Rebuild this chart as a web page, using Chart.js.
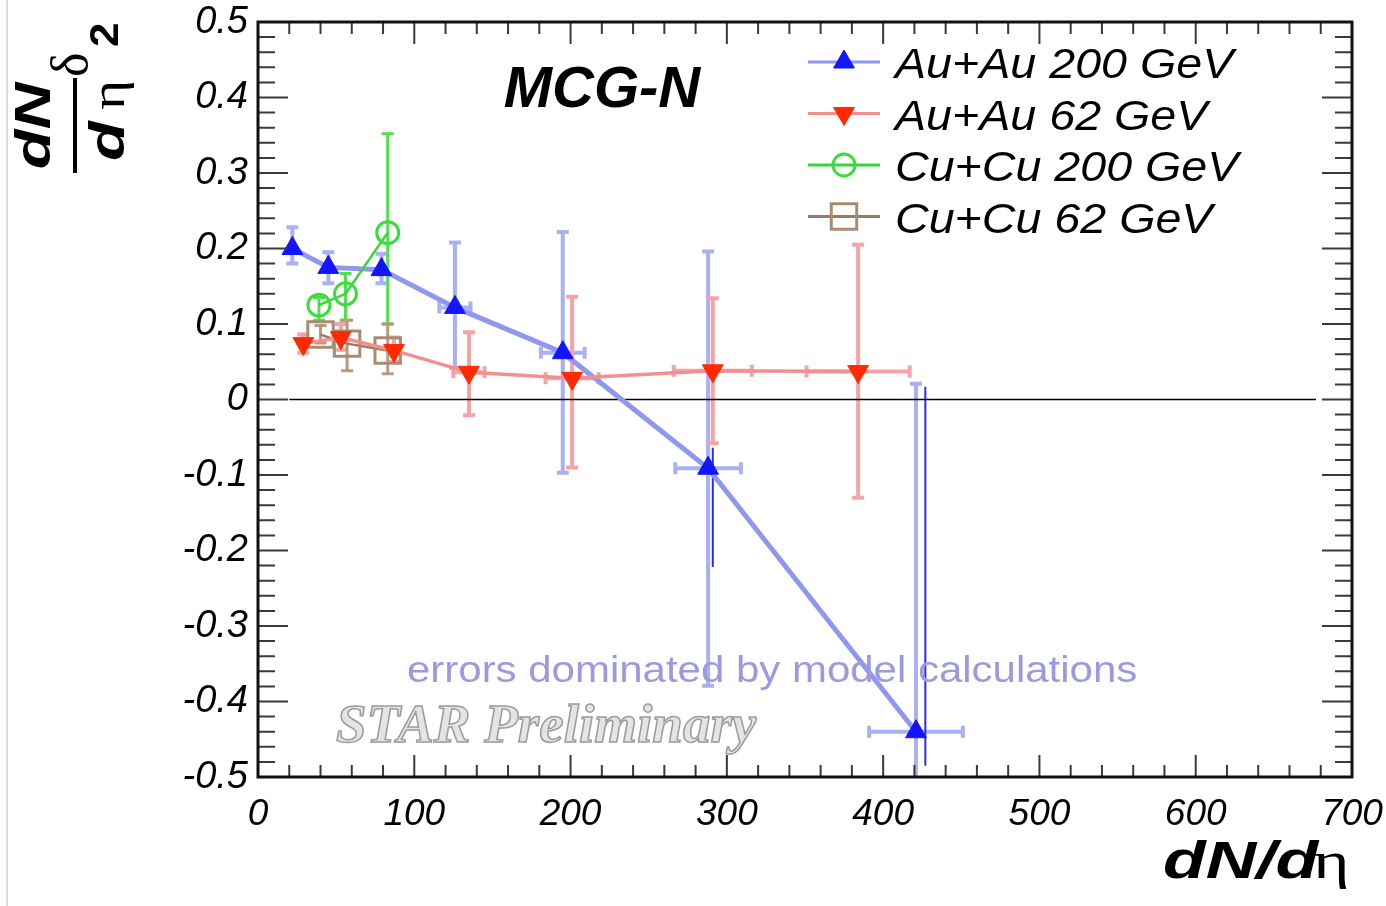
<!DOCTYPE html>
<html>
<head>
<meta charset="utf-8">
<script src="https://cdn.jsdelivr.net/npm/chart.js@4.4.0/dist/chart.umd.min.js"></script>
<style>
  body { margin: 0; background: #fff; }
  canvas { display: block; }
</style>
</head>
<body>
<canvas id="myChart" width="1386" height="906"></canvas>
<script>
// axis ticks
const xTicks = [0, 100, 200, 300, 400, 500, 600, 700];
const xTickLabels = ['0', '100', '200', '300', '400', '500', '600', '700'];
const yTicks = [-0.5, -0.4, -0.3, -0.2, -0.1, 0, 0.1, 0.2, 0.3, 0.4, 0.5];
const yTickLabels = ['-0.5', '-0.4', '-0.3', '-0.2', '-0.1', '0', '0.1', '0.2', '0.3', '0.4', '0.5'];

const seriesNames = ['Au+Au 200 GeV', 'Au+Au 62 GeV', 'Cu+Cu 200 GeV', 'Cu+Cu 62 GeV'];

// Au+Au 200 GeV
const auau200X = [22, 45, 79, 126, 195, 288, 421];
const auau200Y = [0.200, 0.175, 0.172, 0.122, 0.062, -0.091, -0.440];
const auau200YHi = [0.228, 0.195, 0.193, 0.208, 0.222, 0.196, 0.021];
const auau200YLo = [0.180, 0.154, 0.154, 0.042, -0.097, -0.379, -0.530];
const auau200XErr = [2, 2, 2, 10, 14, 21, 30];
// thin extra bars
const auau200ThinX = [291, 427];
const auau200ThinHi = [-0.064, 0.017];
const auau200ThinLo = [-0.222, -0.485];

// Au+Au 62 GeV
const auau62X = [29, 53, 87, 135, 201, 291, 384];
const auau62Y = [0.074, 0.082, 0.065, 0.036, 0.028, 0.038, 0.037];
const auau62YHi = [0.086, 0.100, 0.082, 0.089, 0.136, 0.134, 0.205];
const auau62YLo = [0.062, 0.066, 0.050, -0.021, -0.090, -0.058, -0.130];
const auau62XErr = [2, 2, 2, 10, 17, 25, 33];

// Cu+Cu 200 GeV
const cucu200X = [39, 56, 83];
const cucu200Y = [0.125, 0.140, 0.221];
const cucu200YHi = [0.135, 0.167, 0.352];
const cucu200YLo = [0.105, 0.105, 0.100];
const cucu200XErr = [1, 1, 1];

// Cu+Cu 62 GeV
const cucu62X = [40, 57, 83];
const cucu62Y = [0.086, 0.074, 0.065];
const cucu62YHi = [0.098, 0.105, 0.100];
const cucu62YLo = [0.075, 0.038, 0.034];
const cucu62XErr = [1, 1, 1];

// zero reference line
const zeroLineX = [20, 677];
const zeroLineY = [0, 0];

function toPoints (xs, ys) {
    return xs.map((x, i) => ({ x: x, y: ys[i] }));
}

function drawText (ctx, text, x, y, font, color, sx, align) {
    ctx.save();
    ctx.translate(x, y);
    ctx.scale(sx, 1);
    ctx.font = font;
    ctx.fillStyle = color;
    ctx.textAlign = align || 'left';
    ctx.textBaseline = 'alphabetic';
    ctx.fillText(text, 0, 0);
    ctx.restore();
}

const errorBars = {
    id: 'errorBars',
    beforeDatasetsDraw (chart) {
        const { ctx, chartArea: a, scales: { x, y } } = chart;
        ctx.save();
        ctx.beginPath();
        ctx.rect(a.left, a.top, a.width, a.height);
        ctx.clip();
        chart.data.datasets.forEach(ds => {
            if (!ds.errors) return;
            const e = ds.errors;
            ctx.strokeStyle = e.color;
            ctx.lineWidth = e.width;
            ctx.beginPath();
            ds.data.forEach((p, i) => {
                const px = x.getPixelForValue(p.x);
                const py = y.getPixelForValue(p.y);
                const top = y.getPixelForValue(e.hi[i]);
                const bot = y.getPixelForValue(e.lo[i]);
                const l = x.getPixelForValue(p.x - e.xErr[i]);
                const r = x.getPixelForValue(p.x + e.xErr[i]);
                ctx.moveTo(px, top); ctx.lineTo(px, bot);
                ctx.moveTo(px - 6, top); ctx.lineTo(px + 6, top);
                ctx.moveTo(px - 6, bot); ctx.lineTo(px + 6, bot);
                if (r - l > 8) {
                    ctx.moveTo(l, py); ctx.lineTo(r, py);
                    ctx.moveTo(l, py - 6); ctx.lineTo(l, py + 6);
                    ctx.moveTo(r, py - 6); ctx.lineTo(r, py + 6);
                }
            });
            ctx.stroke();
        });
        // thin bars
        ctx.strokeStyle = '#2b2bf2';
        ctx.lineWidth = 2;
        ctx.beginPath();
        auau200ThinX.forEach((v, i) => {
            const px = x.getPixelForValue(v);
            ctx.moveTo(px, y.getPixelForValue(auau200ThinHi[i]));
            ctx.lineTo(px, y.getPixelForValue(auau200ThinLo[i]));
        });
        ctx.stroke();
        ctx.restore();
    }
};

const frameTicks = {
    id: 'frameTicks',
    afterDraw (chart) {
        const { ctx, chartArea: a, scales: { x, y } } = chart;
        ctx.save();
        ctx.strokeStyle = '#3a3a3a';
        ctx.lineWidth = 2;
        ctx.beginPath();
        for (let i = 0; i <= 35; i++) {
            const px = x.getPixelForValue(i * 20);
            const len = i % 5 === 0 ? 22 : 12;
            ctx.moveTo(px, a.bottom); ctx.lineTo(px, a.bottom - len);
            ctx.moveTo(px, a.top); ctx.lineTo(px, a.top + len);
        }
        for (let i = 0; i <= 50; i++) {
            const py = y.getPixelForValue(-0.5 + i * 0.02);
            const len = i % 5 === 0 ? 30 : 17;
            ctx.moveTo(a.left, py); ctx.lineTo(a.left + len, py);
            ctx.moveTo(a.right, py); ctx.lineTo(a.right - len, py);
        }
        ctx.stroke();
        ctx.strokeStyle = '#111';
        ctx.lineWidth = 3;
        ctx.strokeRect(a.left, a.top, a.width, a.height);

        // page edge line
        ctx.strokeStyle = '#cfcfcf';
        ctx.lineWidth = 1.5;
        ctx.beginPath();
        ctx.moveTo(7, 0); ctx.lineTo(7, 906);
        ctx.stroke();
        ctx.restore();
    }
};

const labelsAndLegend = {
    id: 'labelsAndLegend',
    afterDatasetsDraw (chart) {
        const ctx = chart.ctx;

        drawText(ctx, 'MCG-N', 602, 107, 'italic bold 58px "Liberation Sans"', '#000', 1, 'center');
        drawText(ctx, 'errors dominated by model calculations', 407, 682,
            '36.5px "Liberation Sans"', '#9a9ade', 1.15, 'left');

        ctx.save();
        ctx.font = 'italic bold 55px "Liberation Serif"';
        ctx.fillStyle = '#e4e4e4';
        ctx.strokeStyle = '#9a9a9a';
        ctx.lineWidth = 1.5;
        ctx.fillText('STAR Preliminary', 336, 742);
        ctx.strokeText('STAR Preliminary', 336, 742);
        ctx.restore();

        // legend
        const series = chart.data.datasets.filter(ds => ds.legendRow !== undefined);
        series.forEach(ds => {
            const cy = 62 + ds.legendRow * 51.5;
            ctx.save();
            ctx.strokeStyle = ds.borderColor;
            ctx.lineWidth = 3;
            ctx.beginPath();
            ctx.moveTo(808, cy); ctx.lineTo(880, cy);
            ctx.stroke();
            ctx.fillStyle = ds.pointBackgroundColor;
            ctx.strokeStyle = ds.pointBorderColor;
            ctx.lineWidth = ds.pointBorderWidth;
            Chart.helpers.drawPoint(ctx, {
                pointStyle: ds.pointStyle,
                radius: ds.pointRadius,
                rotation: ds.pointRotation || 0,
                borderWidth: ds.pointBorderWidth
            }, 844, cy);
            ctx.restore();
            drawText(ctx, ds.label, 895, cy + 16, 'italic 42px "Liberation Sans"', '#000', 1.11, 'left');
        });

        // y title (rotated)
        ctx.save();
        ctx.translate(75, 173);
        ctx.rotate(-Math.PI / 2);
        drawText(ctx, 'dN', 47, -25, 'italic bold 50px "Liberation Sans"', '#000', 1.3, 'center');
        ctx.fillStyle = '#000';
        ctx.fillRect(0, -2, 95, 4);
        drawText(ctx, 'd', 12, 49, 'italic bold 50px "Liberation Sans"', '#000', 1.3, 'left');
        drawText(ctx, 'η', 63, 49, '48px "Liberation Serif"', '#000', 1.2, 'left');
        drawText(ctx, 'δ', 96, 12, '52px "Liberation Serif"', '#000', 1, 'left');
        drawText(ctx, '2', 126, 43, 'bold 40px "Liberation Sans"', '#000', 1.1, 'left');
        ctx.restore();

        // x title
        drawText(ctx, 'dN/d', 1163, 878, 'italic bold 51px "Liberation Sans"', '#000', 1.37, 'left');
        drawText(ctx, 'η', 1313, 878, '52px "Liberation Serif"', '#000', 1.35, 'left');
    }
};

Chart.defaults.color = '#000';

const data = {
    datasets: [
        {
            label: 'zero',
            data: toPoints(zeroLineX, zeroLineY),
            showLine: true,
            borderColor: '#000',
            borderWidth: 1.5,
            pointRadius: 0,
            order: 5
        },
        {
            label: seriesNames[0],
            legendRow: 0,
            data: toPoints(auau200X, auau200Y),
            showLine: true,
            borderColor: '#8f98ee',
            borderWidth: 5,
            pointStyle: 'triangle',
            pointRadius: 12,
            pointBackgroundColor: '#1414ff',
            pointBorderColor: '#1414ff',
            pointBorderWidth: 1,
            errors: { hi: auau200YHi, lo: auau200YLo, xErr: auau200XErr, color: '#a9b0f6', width: 4 },
            order: 4
        },
        {
            label: seriesNames[1],
            legendRow: 1,
            data: toPoints(auau62X, auau62Y),
            showLine: true,
            borderColor: '#f29090',
            borderWidth: 3.5,
            pointStyle: 'triangle',
            pointRotation: 180,
            pointRadius: 12,
            pointBackgroundColor: '#ff2a00',
            pointBorderColor: '#ff2a00',
            pointBorderWidth: 1,
            errors: { hi: auau62YHi, lo: auau62YLo, xErr: auau62XErr, color: '#f4a4a4', width: 4 },
            order: 2
        },
        {
            label: seriesNames[2],
            legendRow: 2,
            data: toPoints(cucu200X, cucu200Y),
            showLine: true,
            borderColor: '#3ad43a',
            borderWidth: 2.5,
            pointStyle: 'circle',
            pointRadius: 11,
            pointBackgroundColor: 'rgba(0,0,0,0)',
            pointBorderColor: '#3ddc3d',
            pointBorderWidth: 3,
            errors: { hi: cucu200YHi, lo: cucu200YLo, xErr: cucu200XErr, color: '#4fe04f', width: 3 },
            order: 3
        },
        {
            label: seriesNames[3],
            legendRow: 3,
            data: toPoints(cucu62X, cucu62Y),
            showLine: true,
            borderColor: '#9a7a5c',
            borderWidth: 2.5,
            pointStyle: 'rect',
            pointRadius: 18,
            pointBackgroundColor: 'rgba(0,0,0,0)',
            pointBorderColor: '#a88c70',
            pointBorderWidth: 3,
            errors: { hi: cucu62YHi, lo: cucu62YLo, xErr: cucu62XErr, color: '#b89a7e', width: 3 },
            order: 3.5
        }
    ]
};

const config = {
    type: 'scatter',
    data,
    options: {
        responsive: false,
        animation: false,
        devicePixelRatio: 1,
        layout: { padding: { top: 22, right: 34, left: 0, bottom: 0 } },
        elements: { line: { tension: 0 } },
        plugins: {
            legend: { display: false },
            tooltip: { enabled: false }
        },
        scales: {
            x: {
                type: 'linear',
                min: 0,
                max: 700,
                grid: { display: false, drawTicks: false },
                border: { display: false },
                afterBuildTicks: scale => { scale.ticks = xTicks.map(v => ({ value: v })); },
                afterFit: scale => {
                    scale.height = 129;
                    scale.paddingLeft = 0;
                    scale.paddingRight = 0;
                },
                ticks: {
                    autoSkip: false,
                    maxRotation: 0,
                    padding: 16,
                    font: { family: '"Liberation Sans"', size: 37, style: 'italic' },
                    callback: (v, i) => xTickLabels[i]
                }
            },
            y: {
                type: 'linear',
                min: -0.5,
                max: 0.5,
                grid: { display: false, drawTicks: false },
                border: { display: false },
                afterBuildTicks: scale => { scale.ticks = yTicks.map(v => ({ value: v })); },
                afterFit: scale => {
                    scale.width = 258;
                    scale.paddingTop = 0;
                    scale.paddingBottom = 0;
                },
                ticks: {
                    autoSkip: false,
                    padding: 10,
                    font: { family: '"Liberation Sans"', size: 38, style: 'italic' },
                    callback: (v, i) => yTickLabels[i]
                }
            }
        }
    },
    plugins: [errorBars, labelsAndLegend, frameTicks]
};

const myChart = new Chart(document.getElementById('myChart'), config);
</script>
</body>
</html>
